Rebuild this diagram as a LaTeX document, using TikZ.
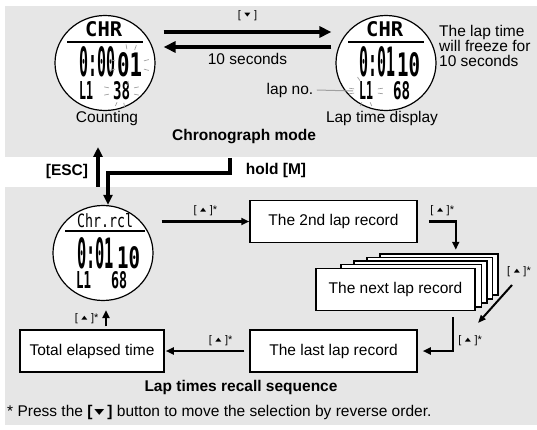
\documentclass[tikz,border=0pt]{standalone}
\usepackage{fontspec}
\usepackage{graphicx}
\setmainfont{Liberation Sans}
\newfontfamily\symfont{DejaVu Sans}
\newfontfamily\lcdfont{DejaVu Sans Mono}
\usetikzlibrary{arrows.meta,shapes.geometric,calc}
\definecolor{panelgray}{RGB}{230,230,230}
\definecolor{flashgray}{RGB}{160,160,160}
\newcommand{\lcd}[3]{\resizebox{#1pt}{#2pt}{\lcdfont #3}}
\newcommand{\tri}[1]{\raisebox{1.8pt}{\scalebox{1}[0.65]{\symfont\fontsize{8}{8}\selectfont #1}}}
\newcommand{\upkey}{[\hspace{3.5pt}\tri{▲}\hspace{3.5pt}]*}
\newcommand{\downkey}{[\hspace{3.5pt}\tri{▼}\hspace{3.5pt}]}
\tikzstyle{Txt}=[font=\fontsize{15.5}{15}\selectfont]
\tikzstyle{Bold}=[font=\fontsize{15.5}{15}\selectfont\bfseries]
\tikzstyle{Key}=[font=\fontsize{11}{11}\selectfont]
\tikzstyle{Watch}=[ellipse,draw,fill=white,line width=1.2pt,minimum width=100pt,minimum height=95pt,inner sep=0pt]
\tikzstyle{Lcd}=[inner sep=0pt,anchor=base west]
\tikzstyle{Flash}=[flashgray,line width=0.7pt]
\tikzstyle{RecBox}=[draw,fill=white,line width=1.5pt,minimum width=167pt,minimum height=42pt,Txt]
\tikzstyle{Card}=[draw,fill=white,line width=1.2pt]
\tikzstyle{BigArrow}=[line width=4pt,-{Triangle[length=12pt,width=11pt]}]
\tikzstyle{MidArrow}=[line width=3.5pt,-{Triangle[length=10pt,width=9pt]}]
\tikzstyle{Arrow}=[line width=2.5pt,-{Triangle[length=8pt,width=7pt]}]
\tikzstyle{ThinArrow}=[line width=2pt,-{Triangle[length=8pt,width=6pt]}]

\begin{document}
\begin{tikzpicture}[x=1pt,y=-1pt]
\useasboundingbox (0,0) rectangle (537,430);

% panels
\fill[panelgray] (5,6) rectangle (537,157);
\fill[panelgray] (5,187) rectangle (537,425);

% chronograph mode
\node[Watch] (w1) at (105,63) {};
\node[Watch] (w2) at (386,63) {};

\begin{scope}[shift={(w1.center)}]
\node[Lcd] (w1mode) at (-20,-26) {\lcd{37}{15}{\bfseries CHR}};
\draw[line width=2pt] (-38,-21) -- (38,-21);
\node[Lcd] (w1time) at (-26,14) {\lcd{36}{30}{\bfseries 0:00}};
\node[Lcd] (w1sub) at (12,14) {\lcd{25}{24}{\bfseries 01}};
\node[Lcd] (w1lap) at (-26,37) {\lcd{14}{18}{\bfseries L1}};
\node[Lcd] (w1split) at (8,37) {\lcd{17}{18}{\bfseries 38}};
\foreach \a in {-100,-70,-15,15,165,195,95}
  \draw[Flash] ($(24.5,2)+(\a:15 and 16)$) -- ($(24.5,2)+(\a:20 and 21)$);
\foreach \a in {165,195,-15,15,80,110}
  \draw[Flash] ($(16.5,28)+(\a:13 and 12)$) -- ($(16.5,28)+(\a:18 and 16)$);
\end{scope}

\begin{scope}[shift={(w2.center)}]
\node[Lcd] (w2mode) at (-20,-26) {\lcd{37}{15}{\bfseries CHR}};
\draw[line width=2pt] (-38,-21) -- (38,-21);
\node[Lcd] (w2time) at (-27,14) {\lcd{36}{30}{\bfseries 0:01}};
\node[Lcd] (w2sub) at (11,14) {\lcd{23}{24}{\bfseries 10}};
\node[Lcd] (w2lap) at (-27,37) {\lcd{14}{18}{\bfseries L1}};
\node[Lcd] (w2split) at (7,37) {\lcd{17}{18}{\bfseries 68}};
\foreach \a in {170,190,-10,10,70,110,-120}
  \draw[Flash] ($(-20,28)+(\a:12 and 12)$) -- ($(-20,28)+(\a:17 and 16)$);
\end{scope}

\node[Txt] (counting) at (107,118) {Counting};
\node[Txt] (lapdisp) at (382,118) {Lap time display};
\node[Bold] (chrmode) at (244,137) {Chronograph mode};
\node[Txt,anchor=north west,align=left,inner sep=0pt] (freeze) at (439,25) {The lap time\\will freeze for\\10 seconds};
\node[Txt] (lapno) at (290,90) {lap no.};
\draw[Flash,line width=1pt] (lapno.east) -- ($(w2lap.west)+(-6,0)$);

\draw[BigArrow] ($(w1.east)+(8,-31)$) -- ($(w2.west)+(-4,-31)$) node[midway,above=6pt,Key] {\downkey};
\draw[BigArrow] ($(w2.west)+(-4,-16)$) -- ($(w1.east)+(8,-16)$) node[midway,below=1pt,Txt] {10 seconds};

% between the modes
\coordinate (escfrom) at (98,187);
\coordinate (escto) at (98,147);
\coordinate (holdfrom) at (230,158);
\node[Bold] (esc) at (67,171) {[ESC]};
\node[Bold] (holdm) at (276,170) {hold [M]};

% recall sequence
\node[Watch] (w3) at (103,253) {};
\begin{scope}[shift={(w3.center)}]
\node[Lcd] (w3mode) at (-26,-26) {\lcd{56}{14}{Chr.rcl}};
\draw[line width=1.2pt] (-38,-22) -- (42,-22);
\node[Lcd] (w3time) at (-26,15) {\lcd{37}{31}{\bfseries 0:01}};
\node[Lcd] (w3sub) at (14,15) {\lcd{23}{22}{\bfseries 10}};
\node[Lcd] (w3lap) at (-27,35) {\lcd{15}{17}{\bfseries L1}};
\node[Lcd] (w3split) at (8,35) {\lcd{16}{17}{\bfseries 68}};
\end{scope}

\draw[MidArrow] (escfrom) -- (escto);
\draw[MidArrow] (holdfrom) -- ++(0,15) -| ($(w3.north)+(5,0)$);

\node[RecBox] (second) at (333.5,221.5) {The 2nd lap record};
\foreach \k in {4,3,2,1}
  \draw[Card] ({328+13*\k},{268-3.5*\k}) rectangle ({476+5.5*\k},{311-4*\k});
\node[RecBox,minimum width=159pt] (next) at (395.5,289.5) {The next lap record};
\node[RecBox] (last) at (333.5,351) {The last lap record};
\node[RecBox,minimum width=144pt] (total) at (92,351) {Total elapsed time};

\draw[Arrow] ($(second.west -| w3.east)+(8,0)$) -- (second.west) node[midway,above=1pt,Key] {\upkey};
\draw[Arrow] ($(second.east)+(11,0)$) -| ($(next.north east)+(-20,-18)$) node[pos=0.25,above=1pt,Key] {\upkey};
\coordinate (diagfrom) at (512,285);
\coordinate (diagto) at (478,323);
\draw[ThinArrow] (diagfrom) -- (diagto) node[at start,anchor=south,xshift=7pt,yshift=4pt,Key] {\upkey};
\draw[Arrow] ($(next.south east)+(-23,6)$) |- ($(last.east)+(5,0)$) node[pos=0.34,right=1pt,Key] {\upkey};
\draw[Arrow] ($(last.west)+(-5,0)$) -- ($(total.east)+(1,0)$) node[pos=0.3,above=1pt,Key] {\upkey};
\draw[Arrow] ($(w3.south |- total.north)+(3,-3)$) -- ($(w3.south)+(3,9)$) node[midway,left=3pt,Key] {\upkey};

\node[Bold] (recall) at (241,387) {Lap times recall sequence};
\node[Txt,anchor=west,inner sep=0pt] (note) at (7,412) {* Press the \textbf{[}\hspace{2pt}\raisebox{2pt}{\scalebox{1}[0.6]{\symfont\fontsize{13}{13}\selectfont ▼}}\hspace{3pt}\textbf{]} button to move the selection by reverse order.};
\end{tikzpicture}
\end{document}
